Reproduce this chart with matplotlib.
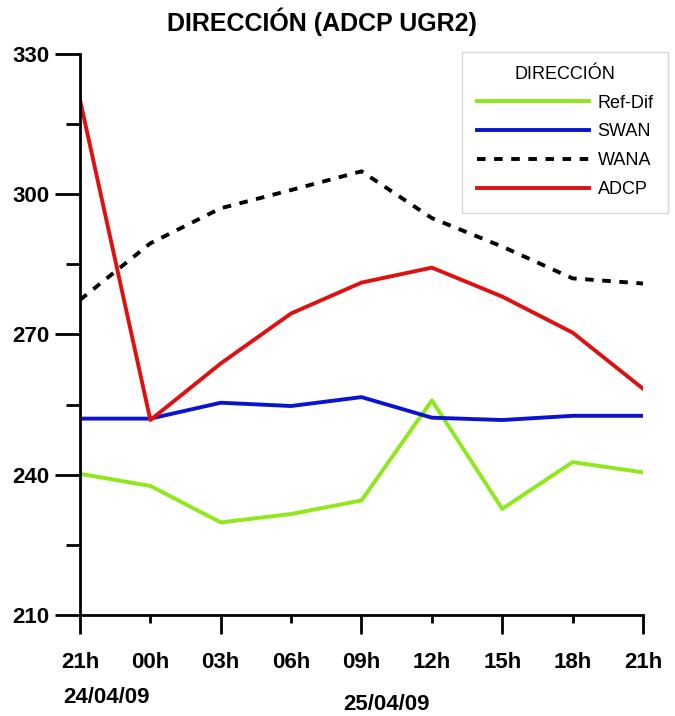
import matplotlib.pyplot as plt
from matplotlib.ticker import MultipleLocator

# hours along the x axis (3 h steps from 21h 24/04/09)
hours = ['21h', '00h', '03h', '06h', '09h', '12h', '15h', '18h', '21h']
dates = ['24/04/09', '25/04/09']

# direction (degrees)
refdif = [240.2, 237.6, 229.8, 231.6, 234.5, 255.9, 232.7, 242.7, 240.5]
swan = [252.0, 252.0, 255.4, 254.7, 256.6, 252.2, 251.7, 252.6, 252.6]
wana = [277.4, 289.5, 297.0, 300.9, 304.9, 294.9, 288.8, 282.0, 280.9]
adcp = [320.2, 251.7, 263.8, 274.5, 281.1, 284.3, 278.1, 270.4, 258.4]

plt.rcParams['font.family'] = ['Liberation Sans', 'DejaVu Sans']

fig = plt.figure(figsize=(6.75, 7.16), dpi=100)
ax = fig.add_axes([0.1185, 0.1411, 0.8341, 0.7835])

x = list(range(len(hours)))
ax.plot(x, refdif, color='#8ee81a', lw=2.8, label='Ref-Dif')
ax.plot(x, swan, color='#0a14d0', lw=2.8, label='SWAN')
ax.plot(x, wana, color='black', lw=2.8, ls=(0, (2.2, 2.2)), label='WANA')
ax.plot(x, adcp, color='#e01010', lw=2.8, label='ADCP')

ax.set_xlim(0, len(hours) - 1)
ax.set_ylim(210, 330)
ax.yaxis.set_major_locator(MultipleLocator(30))
ax.yaxis.set_minor_locator(MultipleLocator(15))
ax.set_xticks(x)
ax.set_xticklabels(hours)

for s in ['top', 'right']:
    ax.spines[s].set_visible(False)
for s in ['left', 'bottom']:
    ax.spines[s].set_linewidth(2)

ax.tick_params(axis='y', which='major', length=18, width=2, labelsize=16, pad=4)
ax.tick_params(axis='y', which='minor', length=10, width=2)
ax.tick_params(axis='x', which='major', length=10, width=2, labelsize=16, pad=17)
for lab in ax.get_xticklabels() + ax.get_yticklabels():
    lab.set_fontweight('bold')
# longer ticks on every other hour
for i, t in enumerate(ax.xaxis.get_major_ticks()):
    t.tick1line.set_markersize(14 if i % 2 == 0 else 6)

fig.text(0.477, 0.969, 'DIRECCIÓN (ADCP UGR2)', fontsize=18, fontweight='bold',
         ha='center', va='center')

leg = ax.legend(title='DIRECCIÓN', loc='upper right', bbox_to_anchor=(1.003, 0.94),
                bbox_transform=fig.transFigure, fontsize=13, title_fontsize=13,
                handlelength=6.2, fancybox=False, edgecolor='#cccccc',
                borderpad=0.8, labelspacing=0.66, handletextpad=0.5)
leg.get_frame().set_linewidth(1)
leg._legend_box.sep = 8

fig.text(0.158, 0.0265, dates[0], fontsize=16, fontweight='bold', ha='center', va='center')
fig.text(0.573, 0.0154, dates[1], fontsize=16, fontweight='bold', ha='center', va='center')

fig.savefig('out.png', dpi=100)
